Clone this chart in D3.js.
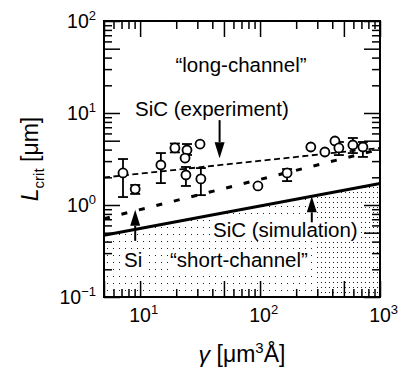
<!DOCTYPE html>
<html><head><meta charset="utf-8">
<script src="https://cdn.jsdelivr.net/npm/d3@7"></script>
<style>
body{margin:0;background:#fff;}
svg{display:block;font-family:"Liberation Sans",Arial,Helvetica,sans-serif;}
</style></head><body>
<svg id="chart" width="403" height="373"></svg>
<script>
// Measured SiC critical channel lengths (γ in µm³Å, L in µm)
const gammaExp = [7.2, 9.1, 14.9, 19.5, 24.6, 23.7, 24.1, 31.6, 32.1, 96, 168, 265, 347, 421, 454, 594, 720];
const lcritExp = [2.23, 1.49, 2.72, 4.17, 3.96, 3.24, 2.12, 4.6, 1.92, 1.61, 2.23, 4.27, 3.77, 4.96, 4.17, 4.49, 4.27];
const errLow   = [1.22, 1.32, 1.73, 3.73, 3.5, null, 1.61, null, 1.28, null, 1.82, null, null, null, 3.49, 3.67, 3.33];
const errHigh  = [3.16, 1.65, 3.67, 4.66, 4.6, null, 2.59, null, 2.52, null, 2.46, null, null, null, 4.84, 5.35, 4.84];

// Power-law curves, given at the ends of the γ range
const gammaModel = [5, 1000];
const lcritSiCFit = [1.99, 4.17];   // fit to SiC experiment
const lcritSi = [0.71, 4.04];       // Si
const lcritSiCSim = [0.47, 1.71];   // SiC simulation

const xDomain = [5, 1000];
const yDomain = [0.1, 100];
const xTickExponents = [1, 2, 3];
const yTickExponents = [-1, 0, 1, 2];

const svg = d3.select("#chart");
const L = 104, R = 380, T = 21, B = 297;
const x = d3.scaleLog().domain(xDomain).range([L, R]);
const y = d3.scaleLog().domain(yDomain).range([B, T]);

// log-log interpolation along a two-point model curve
function modelAt(g, ls) {
  const t = (Math.log10(g) - Math.log10(gammaModel[0])) / (Math.log10(gammaModel[1]) - Math.log10(gammaModel[0]));
  return Math.pow(10, Math.log10(ls[0]) + t * (Math.log10(ls[1]) - Math.log10(ls[0])));
}

// dot fill patterns for the short-channel region
const defs = svg.append("defs");
const pA = defs.append("pattern").attr("id", "dotsA").attr("patternUnits", "userSpaceOnUse")
  .attr("width", 6).attr("height", 7).attr("x", L).attr("y", 0);
pA.append("rect").attr("x", 3).attr("y", 3).attr("width", 1).attr("height", 1).attr("fill", "#222");
const pB = defs.append("pattern").attr("id", "dotsB").attr("patternUnits", "userSpaceOnUse")
  .attr("width", 4).attr("height", 5).attr("x", L).attr("y", 0);
pB.append("rect").attr("x", 1).attr("y", 2).attr("width", 1).attr("height", 1).attr("fill", "#222");
defs.append("clipPath").attr("id", "denseClip").append("rect")
  .attr("x", x(290)).attr("y", T).attr("width", R - x(290)).attr("height", B - T);

const simPts = gammaModel.map((g, i) => [g, lcritSiCSim[i]]);
const area = d3.area().x(d => x(d[0])).y0(y(yDomain[0])).y1(d => y(d[1]));
svg.append("path").datum(simPts).attr("d", area).attr("fill", "url(#dotsA)");
svg.append("path").datum(simPts).attr("d", area).attr("fill", "#fff").attr("clip-path", "url(#denseClip)");
svg.append("path").datum(simPts).attr("d", area).attr("fill", "url(#dotsB)").attr("clip-path", "url(#denseClip)");

const line = d3.line().x(d => x(d[0])).y(d => y(d[1]));
function drawModel(ls, width, dash) {
  svg.append("path").datum(gammaModel.map((g, i) => [g, ls[i]]))
    .attr("d", line).attr("fill", "none").attr("stroke", "#000")
    .attr("stroke-width", width).attr("stroke-dasharray", dash);
}
drawModel(lcritSiCFit, 1.8, "6,3.5");
drawModel(lcritSi, 3, "6,12");
drawModel(lcritSiCSim, 3, null);

// error bars
const eb = svg.append("g").attr("stroke", "#000").attr("stroke-width", 1.8);
gammaExp.forEach((g, i) => {
  if (errLow[i] == null) return;
  const cx = x(g), y1 = y(errLow[i]), y2 = y(errHigh[i]);
  eb.append("line").attr("x1", cx).attr("x2", cx).attr("y1", y1).attr("y2", y2);
  eb.append("line").attr("x1", cx - 5).attr("x2", cx + 5).attr("y1", y1).attr("y2", y1);
  eb.append("line").attr("x1", cx - 5).attr("x2", cx + 5).attr("y1", y2).attr("y2", y2);
});
svg.append("g").selectAll("circle").data(gammaExp).join("circle")
  .attr("cx", d => x(d)).attr("cy", (d, i) => y(lcritExp[i])).attr("r", 4.5)
  .attr("fill", "#fff").attr("stroke", "#000").attr("stroke-width", 1.8);

// axes: ticks point inward on all four sides
function ticksFor(domain, lo, hi) {
  const minor = [], major = [];
  for (let e = lo; e <= hi; e++) for (let m = 1; m <= 9; m++) {
    const v = m * Math.pow(10, e);
    if (v < domain[0] * 0.999 || v > domain[1] * 1.001) continue;
    (m === 1 || m === 5 ? major : minor).push(v);
  }
  return {minor, major};
}
const xt = ticksFor(xDomain, 0, 3), yt = ticksFor(yDomain, -1, 2);
function axis(gen, scale, vals, size, tr) {
  const g = svg.append("g").attr("transform", tr)
    .call(gen(scale).tickValues(vals).tickSize(-size).tickFormat(""));
  g.select(".domain").remove();
  g.selectAll("line").attr("stroke-width", 1.5);
}
[[xt.minor, 8], [xt.major, 16]].forEach(([v, s]) => {
  axis(d3.axisBottom, x, v, s, `translate(0,${B})`);
  axis(d3.axisTop, x, v, s, `translate(0,${T})`);
});
[[yt.minor, 8], [yt.major, 16]].forEach(([v, s]) => {
  axis(d3.axisLeft, y, v, s, `translate(${L},0)`);
  axis(d3.axisRight, y, v, s, `translate(${R},0)`);
});
svg.append("rect").attr("x", L).attr("y", T).attr("width", R - L).attr("height", B - T)
  .attr("fill", "none").attr("stroke", "#000").attr("stroke-width", 2);

// tick labels as 10 with superscript exponent
const tickFont = 19.5, supFont = 13;
const expText = e => (e < 0 ? "\u2212" + (-e) : String(e));
xTickExponents.forEach(e => {
  const t = svg.append("text").attr("y", B + 25).attr("font-size", tickFont);
  const base = t.append("tspan").text("10");
  const w = base.node().getComputedTextLength();
  t.attr("x", x(Math.pow(10, e)) - w / 2);
  t.append("tspan").attr("font-size", supFont).attr("dy", -8).text(expText(e));
});
yTickExponents.forEach(e => {
  const t = svg.append("text").attr("x", L - 8).attr("y", y(Math.pow(10, e)) + 7)
    .attr("font-size", tickFont).attr("text-anchor", "end");
  t.append("tspan").text("10");
  t.append("tspan").attr("font-size", supFont).attr("dy", -8).text(expText(e));
});

// axis titles
const xl = svg.append("text").attr("x", (L + R) / 2).attr("y", 362)
  .attr("text-anchor", "middle").attr("font-size", 23);
xl.append("tspan").attr("font-style", "italic").text("γ");
xl.append("tspan").text(" [μm");
xl.append("tspan").attr("font-size", 15).attr("dy", -9).text("3");
xl.append("tspan").attr("dy", 9).text("Å]");

const yl = svg.append("text").attr("transform", `translate(38,${(T + B) / 2}) rotate(-90)`)
  .attr("text-anchor", "middle").attr("font-size", 23);
yl.append("tspan").attr("font-style", "italic").text("L");
yl.append("tspan").attr("font-size", 15).attr("dy", 6).text("crit");
yl.append("tspan").attr("dy", -6).text(" [μm]");

// annotations
const annFont = 20.5;
function label(txt, px, py, anchor, boxed) {
  const t = svg.append("text").attr("x", px).attr("y", py).attr("font-size", annFont)
    .attr("text-anchor", anchor || "start").text(txt);
  if (boxed) {
    const bb = t.node().getBBox();
    svg.insert("rect", () => t.node()).attr("x", bb.x - 2).attr("y", bb.y + 1)
      .attr("width", bb.width + 4).attr("height", bb.height - 2).attr("fill", "#fff");
  }
}
label("\u201Clong-channel\u201D", 241, 72, "middle");
label("SiC (experiment)", 135, 116);
label("SiC (simulation)", 213, 237, "start", true);
label("\u201Cshort-channel\u201D", 170, 267, "start", true);
label("Si", 124, 267, "start", true);

function arrow(g, ls, gap, len, dir) {
  const ax = x(g), tip = y(modelAt(g, ls)) + dir * gap;
  const head = 16, hw = 5;
  const base = tip - dir * head;
  svg.append("line").attr("x1", ax).attr("x2", ax).attr("y1", base).attr("y2", tip - dir * len)
    .attr("stroke", "#000").attr("stroke-width", 2);
  svg.append("path").attr("d", `M${ax},${tip}L${ax - hw},${base}L${ax + hw},${base}Z`).attr("fill", "#000");
}
arrow(46, lcritSiCFit, -7, 38, 1);   // points down onto the experiment fit
arrow(9.1, lcritSi, 1, 31, -1);      // points up to the Si curve
arrow(270, lcritSiCSim, 0, 26, -1);  // points up to the SiC simulation curve
</script>
</body></html>
